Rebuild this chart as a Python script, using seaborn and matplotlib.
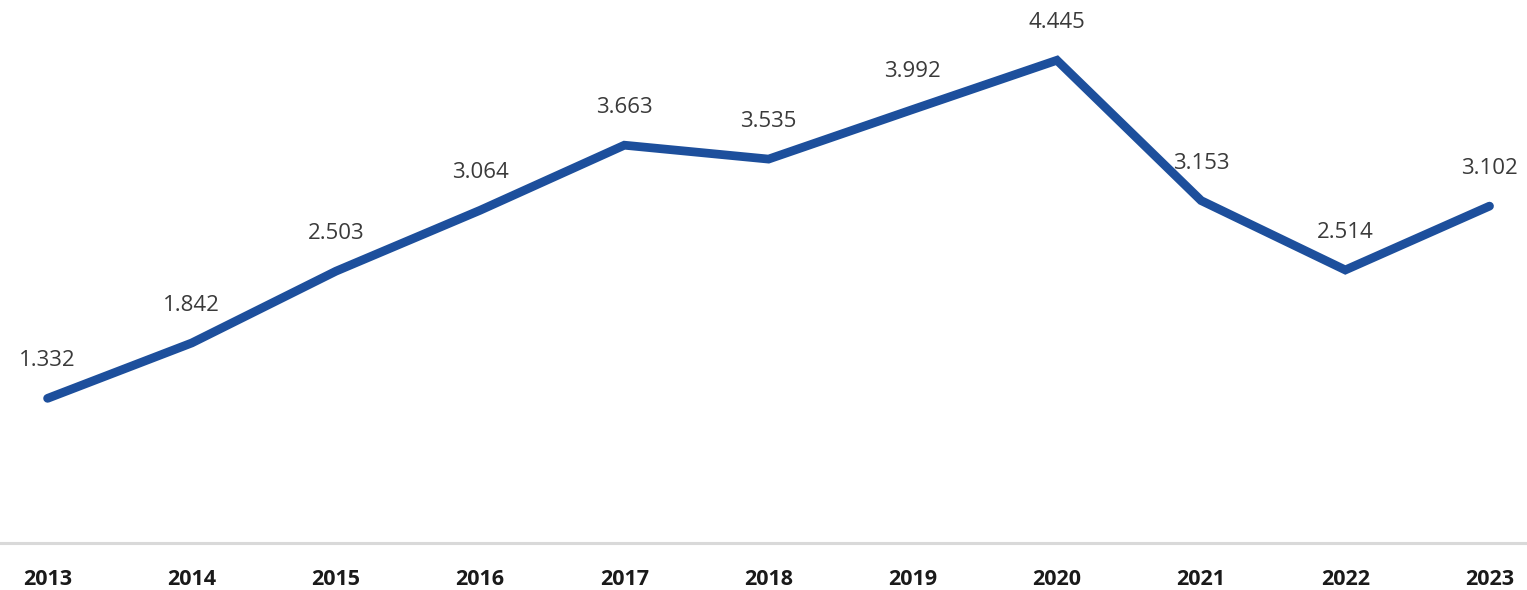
import matplotlib
matplotlib.use("Agg")
import matplotlib.pyplot as plt
import seaborn as sns
import pandas as pd

# ── data ─────────────────────────────────────────────────────
years = [2013, 2014, 2015, 2016, 2017, 2018, 2019, 2020, 2021, 2022, 2023]
values = [1.332, 1.842, 2.503, 3.064, 3.663, 3.535, 3.992, 4.445, 3.153, 2.514, 3.102]
labels = ["1.332", "1.842", "2.503", "3.064", "3.663", "3.535",
          "3.992", "4.445", "3.153", "2.514", "3.102"]

df = pd.DataFrame({"year": years, "value": values})

sns.set_theme(style="white")
plt.rcParams["font.family"] = ["Open Sans", "DejaVu Sans"]

fig = plt.figure(figsize=(15.27, 5.9), dpi=100)
ax = fig.add_axes([0, 47 / 590, 1, 543 / 590])

sns.lineplot(data=df, x="year", y="value", ax=ax, color="#1d4f9c",
             linewidth=6.3, solid_capstyle="round", solid_joinstyle="miter")

for x, y, t in zip(years, values, labels):
    ax.annotate(t, (x, y), xytext=(0, 27), textcoords="offset points",
                ha="center", va="center", fontsize=16, color="#3a3a3a")

ax.set_xlim(2012.67, 2023.26)
ax.set_ylim(0, 5)
ax.set_xticks(years)
ax.set_xticklabels([str(y) for y in years], fontsize=15.5, fontweight="bold",
                   color="#1a1a1a")
ax.set_yticks([])
ax.set_xlabel("")
ax.set_ylabel("")
ax.tick_params(axis="x", length=0, pad=19)

for side in ["top", "left", "right"]:
    ax.spines[side].set_visible(False)
ax.spines["bottom"].set_color("#d9d9d9")
ax.spines["bottom"].set_linewidth(2.2)

fig.savefig("out.png", dpi=100)
